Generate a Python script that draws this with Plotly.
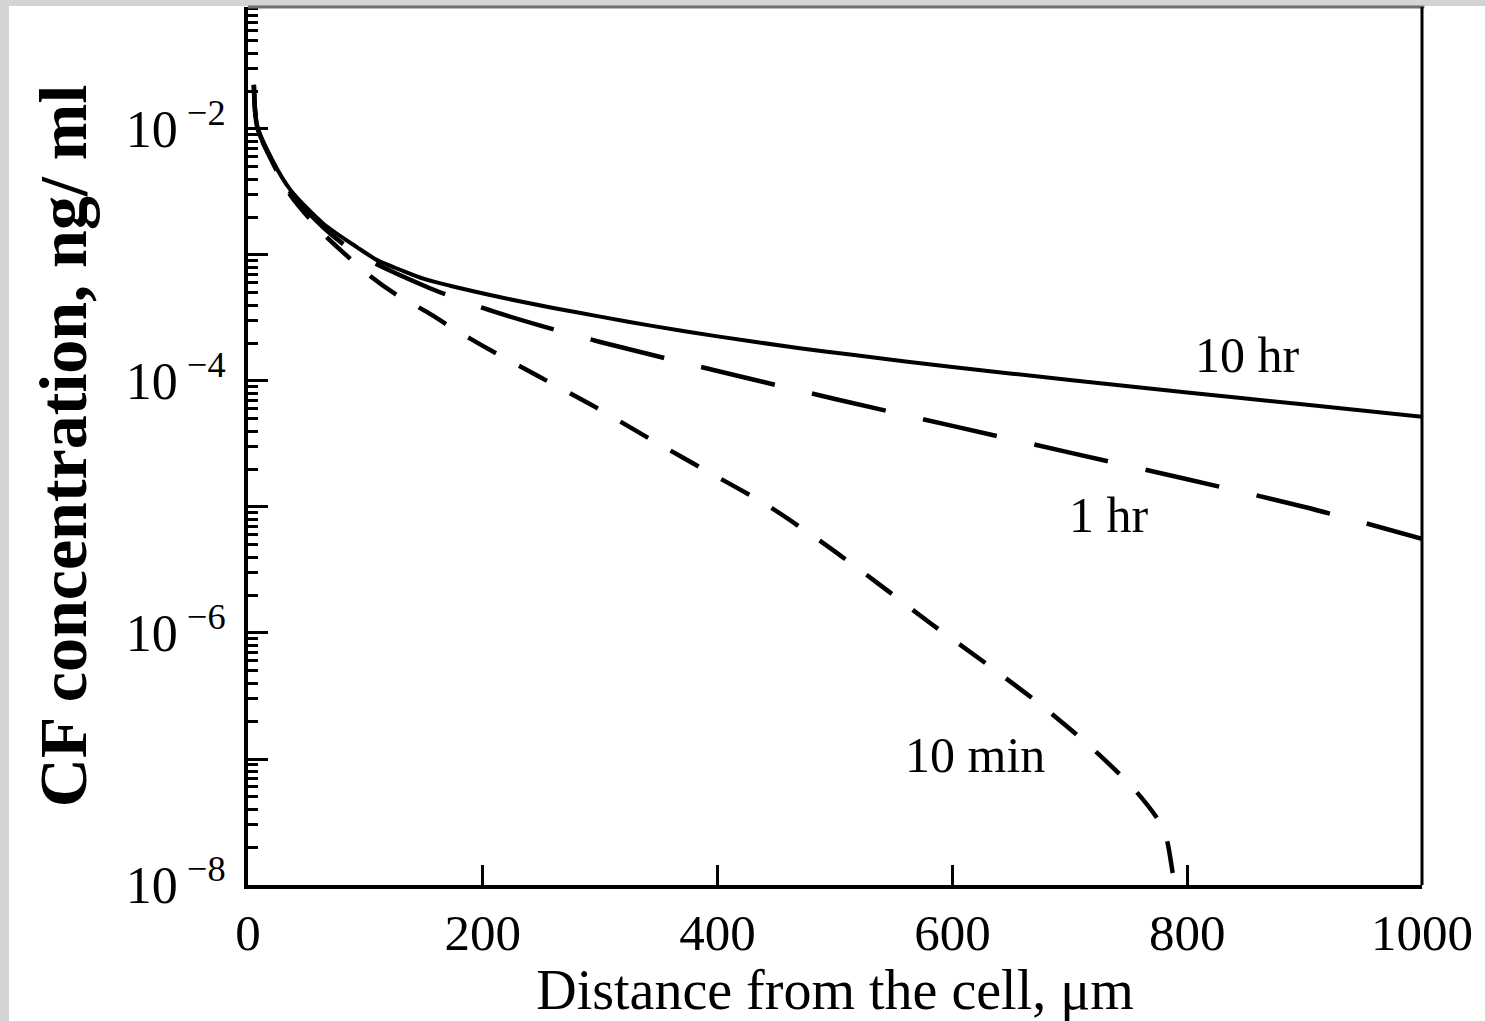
import math
import plotly.graph_objects as go

# ---- data ----
x_10hr = [5, 8, 21, 36, 64, 93, 110, 130, 150, 172, 215, 260, 300, 343, 400, 470, 513, 600, 700, 800, 900, 1000]
y_10hr = [2.24e-2, 1.05e-2, 5.6e-3, 3.3e-3, 1.78e-3, 1.15e-3, 9.1e-4, 7.6e-4, 6.45e-4, 5.7e-4,
          4.62e-4, 3.8e-4, 3.24e-4, 2.75e-4, 2.26e-4, 1.82e-4, 1.62e-4, 1.29e-4, 1.02e-4,
          8.1e-5, 6.5e-5, 5.2e-5]

x_1hr = [5, 8, 21, 36, 64, 93, 152, 200, 249, 300, 400, 500, 600, 700, 800, 900, 1000]
y_1hr = [2.24e-2, 1.02e-2, 5.5e-3, 3.16e-3, 1.66e-3, 1.02e-3, 5.6e-4, 3.8e-4, 2.75e-4, 2.04e-4,
         1.2e-4, 7.2e-5, 4.4e-5, 2.7e-5, 1.66e-5, 1.0e-5, 5.6e-6]

x_10min = [5, 8, 21, 36, 64, 81, 104, 127, 153, 175, 200, 249, 296, 344, 392, 441, 487, 536, 581,
           630, 675, 716, 756, 780, 788, 791]
y_10min = [2.24e-2, 1.02e-2, 5.4e-3, 3.0e-3, 1.48e-3, 1.05e-3, 6.8e-4, 4.8e-4, 3.5e-4, 2.6e-4,
           1.9e-4, 1.07e-4, 6.2e-5, 3.4e-5, 1.9e-5, 1.05e-5, 5.4e-6, 2.5e-6, 1.2e-6,
           5.6e-7, 2.7e-7, 1.29e-7, 5.6e-8, 2.75e-8, 1.2e-8, 8.9e-9]

series_names = ["10 hr", "1 hr", "10 min"]

x_tickvals = [0, 200, 400, 600, 800, 1000]
x_ticktext = ["0", "200", "400", "600", "800", "1000"]
y_tickvals = [1e-8, 1e-7, 1e-6, 1e-5, 1e-4, 1e-3, 1e-2]
y_ticktext = ["10<sup> \u22128</sup>", "", "10<sup> \u22126</sup>", "", "10<sup> \u22124</sup>", "", "10<sup> \u22122</sup>"]
y_minor_vals = [k * 10.0 ** e for e in range(-8, -1) for k in range(2, 10)]

x_title = "Distance from the cell, \u03bcm"
y_title = "CF concentration, ng/ ml"

SERIF = "Liberation Serif, Times New Roman, serif"

fig = go.Figure()
fig.add_trace(go.Scatter(x=x_10hr, y=y_10hr, mode="lines", name=series_names[0],
                         line=dict(color="black", width=4, shape="spline", smoothing=0.8)))
fig.add_trace(go.Scatter(x=x_1hr, y=y_1hr, mode="lines", name=series_names[1],
                         line=dict(color="black", width=4.5, dash="76px,38px", shape="spline", smoothing=0.8)))
fig.add_trace(go.Scatter(x=x_10min, y=y_10min, mode="lines", name=series_names[2],
                         line=dict(color="black", width=4.5, dash="32px,26px", shape="spline", smoothing=0.8)))

# curve labels (positions in data units; log axis needs log10 for annotations)
label_pos = [(851, 1.6e-4), (733, 8.6e-6), (619, 1.08e-7)]
for name, (lx, ly) in zip(series_names, label_pos):
    fig.add_annotation(x=lx, y=math.log10(ly), xref="x", yref="y", text=name, showarrow=False,
                       font=dict(family=SERIF, size=50, color="black"))

W, H = 1485, 1021
L, R, T, B = 248, 63, 7, 136
pw, ph = W - L - R, H - T - B

def px_x(p):
    return (p - L) / pw

def px_y(p):
    return (H - B - p) / ph

shapes = [
    # light grey page strips (scan border)
    dict(type="rect", xref="paper", yref="paper", x0=px_x(0), x1=px_x(9), y0=px_y(H), y1=px_y(0),
         fillcolor="#d4d4d4", line=dict(width=0), layer="below"),
    dict(type="rect", xref="paper", yref="paper", x0=px_x(0), x1=px_x(W), y0=px_y(6), y1=px_y(0),
         fillcolor="#d4d4d4", line=dict(width=0), layer="below"),
    # top frame (grey) and right frame (black)
    dict(type="line", xref="paper", yref="paper", x0=0, x1=1.002, y0=1, y1=1,
         line=dict(color="#6f6f6f", width=3)),
    dict(type="line", xref="paper", yref="paper", x0=1, x1=1, y0=0, y1=1,
         line=dict(color="black", width=3)),
]

fig.update_layout(
    width=W, height=H,
    margin=dict(l=L, r=R, t=T, b=B),
    paper_bgcolor="white", plot_bgcolor="white",
    showlegend=False,
    shapes=shapes,
    font=dict(family=SERIF, color="black"),
)

fig.update_xaxes(
    range=[0, 1000], showgrid=False, zeroline=False,
    showline=True, linecolor="black", linewidth=4,
    tickmode="array", tickvals=x_tickvals, ticktext=x_ticktext,
    ticks="inside", ticklen=20, tickwidth=3, tickcolor="black",
    tickfont=dict(family=SERIF, size=51, color="black"),
    ticklabelstandoff=0,
    title=dict(text=x_title, font=dict(family=SERIF, size=56, color="black"), standoff=10),
)

fig.update_yaxes(
    type="log", range=[-8, -1.032], showgrid=False, zeroline=False,
    showline=True, linecolor="black", linewidth=4,
    tickmode="array", tickvals=y_tickvals, ticktext=y_ticktext,
    ticks="inside", ticklen=20, tickwidth=3, tickcolor="black",
    tickfont=dict(family=SERIF, size=52, color="black"),
    ticklabelstandoff=8,
    minor=dict(tickmode="array", tickvals=y_minor_vals, ticks="inside", ticklen=10,
               tickwidth=3, tickcolor="black", showgrid=False),
    title=dict(text="<b>" + y_title + "</b>", font=dict(family=SERIF, size=68, color="black"), standoff=18),
)

fig.write_html("out.html", config={"displayModeBar": False},
               post_script="document.body.style.margin='0';document.body.style.overflow='hidden';")
